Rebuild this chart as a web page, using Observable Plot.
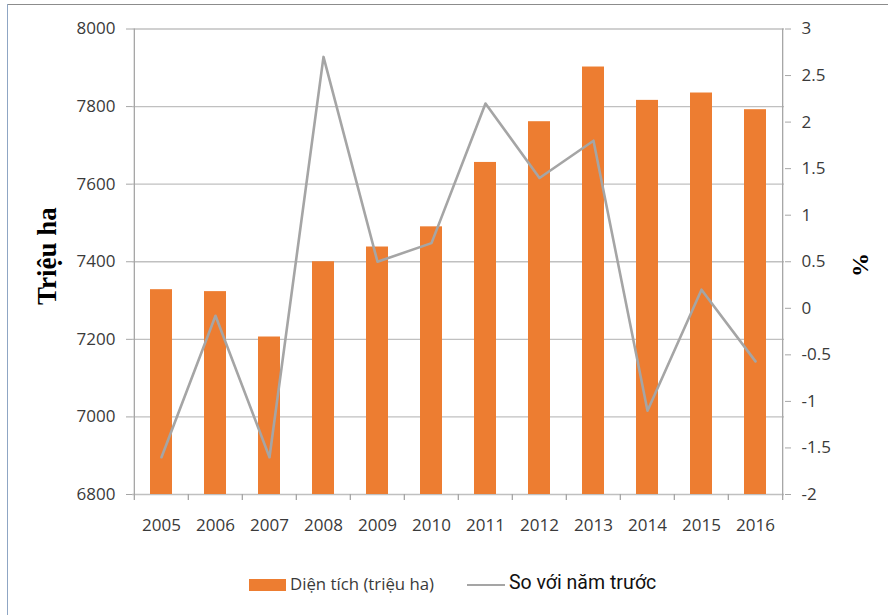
<!DOCTYPE html>
<html>
<head>
<meta charset="utf-8">
<script src="https://cdn.jsdelivr.net/npm/d3@7"></script>
<script src="https://cdn.jsdelivr.net/npm/@observablehq/plot@0.6"></script>
<style>
  html, body { margin: 0; padding: 0; background: #fff; }
  #wrap { position: relative; width: 888px; height: 615px; overflow: hidden; font-family: "Open Sans", sans-serif; }
  #wrap svg { position: absolute; left: 0; top: 0; }
  .abs { position: absolute; white-space: nowrap; }
</style>
</head>
<body>
<div id="wrap"></div>
<script>
// ---- data ----
const years = ["2005","2006","2007","2008","2009","2010","2011","2012","2013","2014","2015","2016"];
const area = [7328, 7323, 7206, 7400, 7438, 7490, 7656, 7761, 7902, 7816, 7835, 7792];
const pct = [-1.6, -0.08, -1.6, 2.7, 0.5, 0.7, 2.2, 1.4, 1.8, -1.1, 0.2, -0.57];
const leftTicks = [6800, 7000, 7200, 7400, 7600, 7800, 8000];
const rightTicks = [-2, -1.5, -1, -0.5, 0, 0.5, 1, 1.5, 2, 2.5, 3];
const rightLabels = ["-2", "-1.5", "-1", "-0.5", "0", "0.5", "1", "1.5", "2", "2.5", "3"];
const seriesNames = ["Diện tích (triệu ha)", "So với năm trước"];
const yTitleLeft = "Triệu ha";
const yTitleRight = "%";

(function () {
// ---- layout ----
const W = 888, H = 615;
const mL = 132, mR = 104, mT = 28.5, mB = 121;
const yMin = leftTicks[0], yMax = leftTicks[leftTicks.length - 1];
const rMin = rightTicks[0], rMax = rightTicks[rightTicks.length - 1];
const toLeft = p => yMin + (p - rMin) * (yMax - yMin) / (rMax - rMin);
const step = (W - mL - mR) / years.length;
const pxPerUnit = (H - mT - mB) / (yMax - yMin);
const tickLen = 6;

const data = years.map((y, i) => ({year: y, area: area[i], pct: pct[i], pl: toLeft(pct[i])}));
const rightMap = new Map(rightTicks.map((t, i) => [toLeft(t), rightLabels[i]]));

const gridColor = "#c0c0c0";
const axisColor = "#a6a6a6";
const textColor = "#3a3a3a";

const chart = Plot.plot({
  width: W, height: H,
  marginLeft: mL, marginRight: mR, marginTop: mT, marginBottom: mB,
  style: {fontFamily: "Open Sans, sans-serif", background: "transparent", overflow: "visible"},
  x: {type: "band", domain: years, paddingInner: 0.6, paddingOuter: 0.3, axis: null, label: null},
  y: {domain: [yMin, yMax], axis: null, label: null},
  marks: [
    Plot.ruleY(leftTicks, {stroke: gridColor, strokeWidth: 1.3}),
    Plot.barY(data, {x: "year", y1: yMin, y2: "area", fill: "#ED7D31"}),
    Plot.line(data, {x: "year", y: "pl", stroke: "#A5A5A5", strokeWidth: 2.6}),
    Plot.ruleX([years[0]], {dx: -step / 2, y1: yMin, y2: yMax, stroke: axisColor, strokeWidth: 1.3}),
    Plot.ruleX([years[years.length - 1]], {dx: step / 2, y1: yMin, y2: yMax, stroke: axisColor, strokeWidth: 1.3}),
    Plot.ruleX(years, {dx: -step / 2, y1: yMin, y2: yMin - tickLen / pxPerUnit, stroke: axisColor, strokeWidth: 1.3}),
    Plot.ruleX([years[years.length - 1]], {dx: step / 2, y1: yMin, y2: yMin - tickLen / pxPerUnit, stroke: axisColor, strokeWidth: 1.3}),
    Plot.axisX({anchor: "bottom", tickSize: 0, tickPadding: 24, fontSize: 17, fill: textColor, label: null}),
    Plot.axisY(leftTicks, {anchor: "left", tickSize: tickLen, tickPadding: 11, fontSize: 17, stroke: axisColor, fill: textColor, tickFormat: d => String(d), label: null}),
    Plot.axisY(rightTicks.map(toLeft), {anchor: "right", tickSize: tickLen, tickPadding: 11, fontSize: 17, stroke: axisColor, fill: textColor, tickFormat: d => rightMap.get(d), label: null})
  ]
});

const wrap = document.getElementById("wrap");
wrap.appendChild(chart);

function box(css) {
  const d = document.createElement("div");
  d.className = "abs";
  Object.assign(d.style, css);
  wrap.appendChild(d);
  return d;
}
// frame lines (top and left only, as in reference)
box({left: "7px", top: "4px", width: (W - 7) + "px", height: "0", borderTop: "1.5px solid #8c8c8c"});
box({left: "7px", top: "4px", width: "0", height: (H - 4) + "px", borderLeft: "1.5px solid #8fa6c4"});

// axis titles
function rotText(txt, cx, cy, css) {
  const d = box(Object.assign({}, css, {left: cx + "px", top: cy + "px", transform: "translate(-50%,-50%) rotate(-90deg)", lineHeight: "1"}));
  d.textContent = txt;
}
rotText(yTitleLeft, 47, 256, {fontFamily: "Liberation Serif, serif", fontWeight: "bold", fontSize: "27px", color: "#000"});
rotText(yTitleRight, 860, 265, {fontFamily: "Liberation Serif, serif", fontWeight: "bold", fontSize: "24px", color: "#000"});

// legend
box({left: "249px", top: "579px", width: "37px", height: "12px", background: "#ED7D31"});
box({left: "290px", top: "573px", fontSize: "16.8px", color: textColor, fontFamily: "Open Sans, sans-serif", lineHeight: "22px"}).textContent = seriesNames[0];
box({left: "467px", top: "584px", width: "38px", height: "0", borderTop: "2.5px solid #A5A5A5"});
box({left: "509px", top: "571px", fontSize: "19.5px", color: "#111", fontFamily: "Roboto, sans-serif", lineHeight: "24px"}).textContent = seriesNames[1];
})();
</script>
</body>
</html>
